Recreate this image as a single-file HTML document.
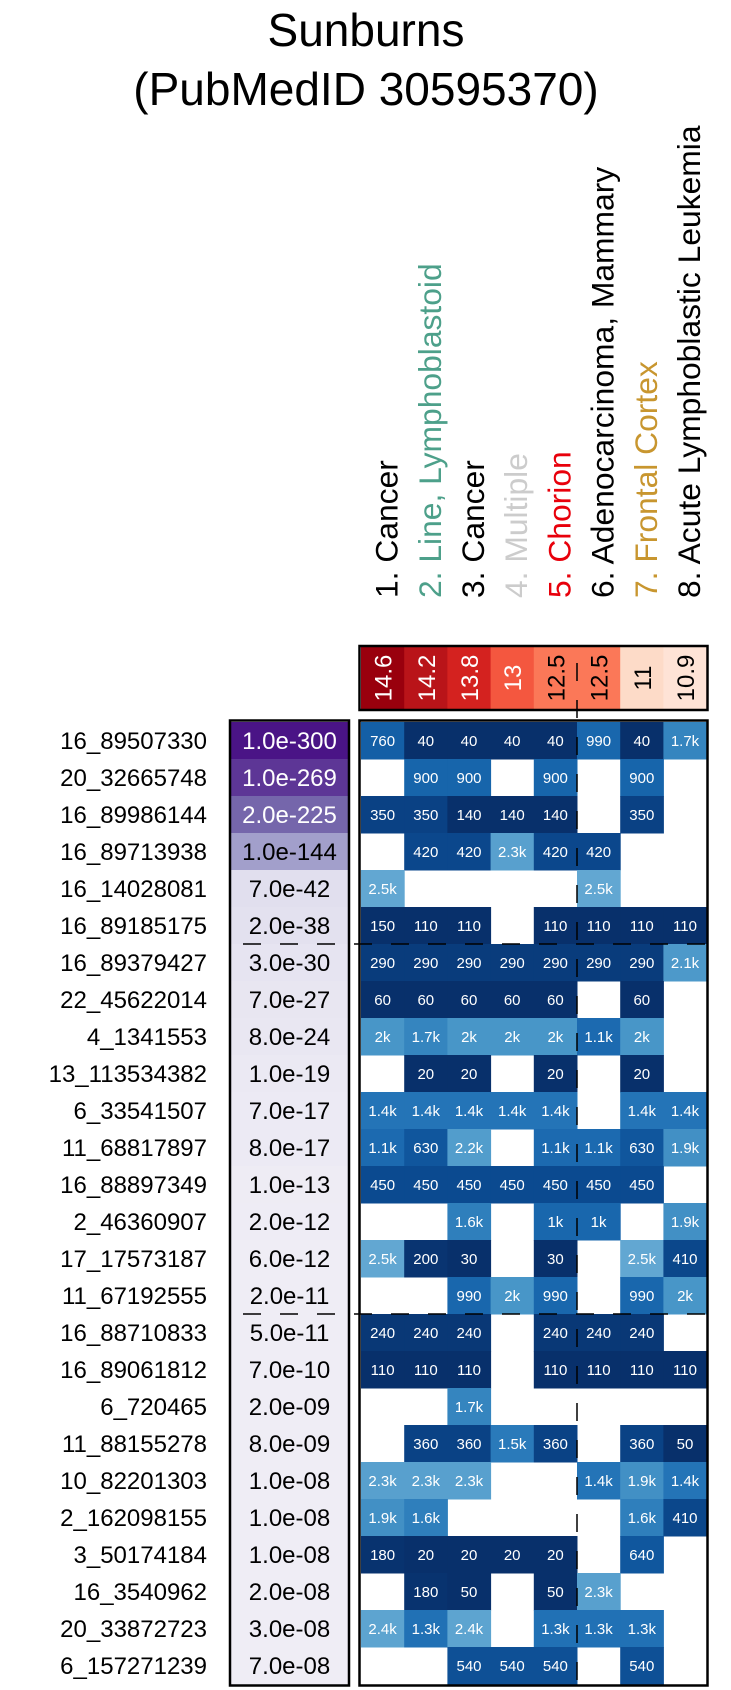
<!DOCTYPE html>
<html><head><meta charset="utf-8"><style>
html,body{margin:0;padding:0;background:#fff;}
svg{display:block;font-family:"Liberation Sans",Arial,sans-serif;}
</style></head><body>
<svg id="chart" width="731" height="1690" viewBox="0 0 731 1690" xmlns="http://www.w3.org/2000/svg">
<text x="366" y="46" font-size="46" text-anchor="middle">Sunburns</text>
<text x="366" y="105" font-size="46" text-anchor="middle">(PubMedID 30595370)</text>
<g id="collabels"></g>
<g id="cbar"></g>
<g id="pvals"></g>
<g id="rowlabels"></g>
<g id="cells"></g>
<g id="overlay"></g>
</svg>
<script>
const columns = ["1. Cancer","2. Line, Lymphoblastoid","3. Cancer","4. Multiple","5. Chorion","6. Adenocarcinoma, Mammary","7. Frontal Cortex","8. Acute Lymphoblastic Leukemia"];
const columnColors = ["#000000","#4da08a","#000000","#cccccc","#e8000b","#000000","#c8962f","#000000"];
const enrichment = [14.6,14.2,13.8,13,12.5,12.5,11,10.9];
const rowLabels = ["16_89507330","20_32665748","16_89986144","16_89713938","16_14028081","16_89185175","16_89379427","22_45622014","4_1341553","13_113534382","6_33541507","11_68817897","16_88897349","2_46360907","17_17573187","11_67192555","16_88710833","16_89061812","6_720465","11_88155278","10_82201303","2_162098155","3_50174184","16_3540962","20_33872723","6_157271239"];
const pvalues = ["1.0e-300","1.0e-269","2.0e-225","1.0e-144","7.0e-42","2.0e-38","3.0e-30","7.0e-27","8.0e-24","1.0e-19","7.0e-17","8.0e-17","1.0e-13","2.0e-12","6.0e-12","2.0e-11","5.0e-11","7.0e-10","2.0e-09","8.0e-09","1.0e-08","1.0e-08","1.0e-08","2.0e-08","3.0e-08","7.0e-08"];
const N = null;
const cellValues = [
[760,40,40,40,40,990,40,1700],
[N,900,900,N,900,N,900,N],
[350,350,140,140,140,N,350,N],
[N,420,420,2300,420,420,N,N],
[2500,N,N,N,N,2500,N,N],
[150,110,110,N,110,110,110,110],
[290,290,290,290,290,290,290,2100],
[60,60,60,60,60,N,60,N],
[2000,1700,2000,2000,2000,1100,2000,N],
[N,20,20,N,20,N,20,N],
[1400,1400,1400,1400,1400,N,1400,1400],
[1100,630,2200,N,1100,1100,630,1900],
[450,450,450,450,450,450,450,N],
[N,N,1600,N,1000,1000,N,1900],
[2500,200,30,N,30,N,2500,410],
[N,N,990,2000,990,N,990,2000],
[240,240,240,N,240,240,240,N],
[110,110,110,N,110,110,110,110],
[N,N,1700,N,N,N,N,N],
[N,360,360,1500,360,N,360,50],
[2300,2300,2300,N,N,1400,1900,1400],
[1900,1600,N,N,N,N,1600,410],
[180,20,20,20,20,N,640,N],
[N,180,50,N,50,2300,N,N],
[2400,1300,2400,N,1300,1300,1300,N],
[N,N,540,540,540,N,540,N]
];
const groupBreaks = [6,16];
const divider = 5;

const NS="http://www.w3.org/2000/svg";
function mk(tag,attrs,parent){const e=document.createElementNS(NS,tag);for(const k in attrs)e.setAttribute(k,attrs[k]);parent.appendChild(e);return e;}
function hex(c){return [1,3,5].map(i=>parseInt(c.substr(i,2),16));}
function interp(stops,v){
  if(v<=stops[0][0])return stops[0][1];
  for(let i=1;i<stops.length;i++){if(v<=stops[i][0]){const a=hex(stops[i-1][1]),b=hex(stops[i][1]);const t=(v-stops[i-1][0])/(stops[i][0]-stops[i-1][0]);return "rgb("+a.map((x,j)=>Math.round(x+(b[j]-x)*t)).join(",")+")";}}
  return stops[stops.length-1][1];
}
const blueStops=[[0,"#08306b"],[150,"#08306b"],[450,"#0b4a90"],[800,"#1562a9"],[1000,"#1967ad"],[1400,"#2474b7"],[1700,"#3585bf"],[2000,"#4896c8"],[2500,"#62a7d2"]];
const redStops=[[10.9,"#fee3d6"],[11,"#fddbc8"],[12.5,"#fb7858"],[13,"#f4573f"],[13.8,"#d4221f"],[14.2,"#b91419"],[14.6,"#99000d"]];
const purpleStops=[[0,"#efedf5"],[10.5,"#efedf5"],[41,"#e1dfee"],[144,"#a29fcb"],[225,"#7566ab"],[269,"#5d3696"],[300,"#4a1486"]];
function fmt(v){return v>=1000?(Math.round(v/100)/10)+"k":String(v);}

const X0=361, CW=43.2, Y0=722, RH=37, PX=231, PW=117;
const xOf=i=>X0+i*CW, yOf=r=>Y0+r*RH;

const gl=document.getElementById('collabels');
columns.forEach((c,i)=>{
  const cx=xOf(i)+CW/2+15;
  const t=mk('text',{x:cx,y:598,'font-size':31.8,fill:columnColors[i],transform:`rotate(-90 ${cx} 598)`},gl);
  t.textContent=c;
  
  
});
const gc=document.getElementById('cbar');
enrichment.forEach((v,i)=>{
  const r=mk('rect',{x:xOf(i),y:647,width:CW+0.5,height:62,fill:interp(redStops,v)},gc);
  
  
  const cx=xOf(i)+CW/2+9, cy=678;
  const t=mk('text',{x:cx,y:cy,'font-size':24,'text-anchor':'middle',fill:v>=13?"#fff":"#000",transform:`rotate(-90 ${cx} ${cy})`},gc);
  t.textContent=String(v);
  
  
});
const gp=document.getElementById('pvals'), gr=document.getElementById('rowlabels');
pvalues.forEach((p,r)=>{
  const lg=-Math.log10(parseFloat(p));
  const rc=mk('rect',{x:PX,y:yOf(r),width:PW,height:RH+0.5,fill:interp(purpleStops,lg)},gp);
  
  
  const t=mk('text',{x:PX+PW/2,y:yOf(r)+RH/2+8.5,'font-size':24,'text-anchor':'middle',fill:lg>=200?"#fff":"#000"},gp);
  t.textContent=p;
  
  
  const l=mk('text',{x:207,y:yOf(r)+RH/2+8.5,'font-size':24,'text-anchor':'end'},gr);
  l.textContent=rowLabels[r];
  
  
});
const gce=document.getElementById('cells');
cellValues.forEach((row,r)=>row.forEach((v,i)=>{
  if(v===null)return;
  const rc=mk('rect',{x:xOf(i),y:yOf(r),width:CW+0.5,height:RH+0.5,fill:interp(blueStops,v)},gce);
  
  
  const t=mk('text',{x:xOf(i)+CW/2,y:yOf(r)+RH/2+5.5,'font-size':15,'text-anchor':'middle',fill:'#fff'},gce);
  t.textContent=fmt(v);
  
  
}));
const go=document.getElementById('overlay');
const yEnd=yOf(rowLabels.length);
groupBreaks.forEach(b=>{
  const l=mk('line',{x1:PX,x2:xOf(8),y1:yOf(b),y2:yOf(b),stroke:'#000','stroke-width':1.5,'stroke-dasharray':'18,19','stroke-dashoffset':-12},go);
  
  
});
const vd=mk('line',{x1:xOf(divider),x2:xOf(divider),y1:647,y2:yEnd,stroke:'#000','stroke-width':1.5,'stroke-dasharray':'18,19','stroke-dashoffset':-16},go);


const f1=mk('rect',{x:359.5,y:646,width:348,height:64,fill:'none',stroke:'#000','stroke-width':2.5},go);


const f2=mk('rect',{x:PX-1,y:Y0-1.5,width:PW+2,height:yEnd-Y0+3,fill:'none',stroke:'#000','stroke-width':2.5},go);


const f3=mk('rect',{x:359.5,y:Y0-1.5,width:348,height:yEnd-Y0+3,fill:'none',stroke:'#000','stroke-width':2.5},go);


</script>
</body></html>
